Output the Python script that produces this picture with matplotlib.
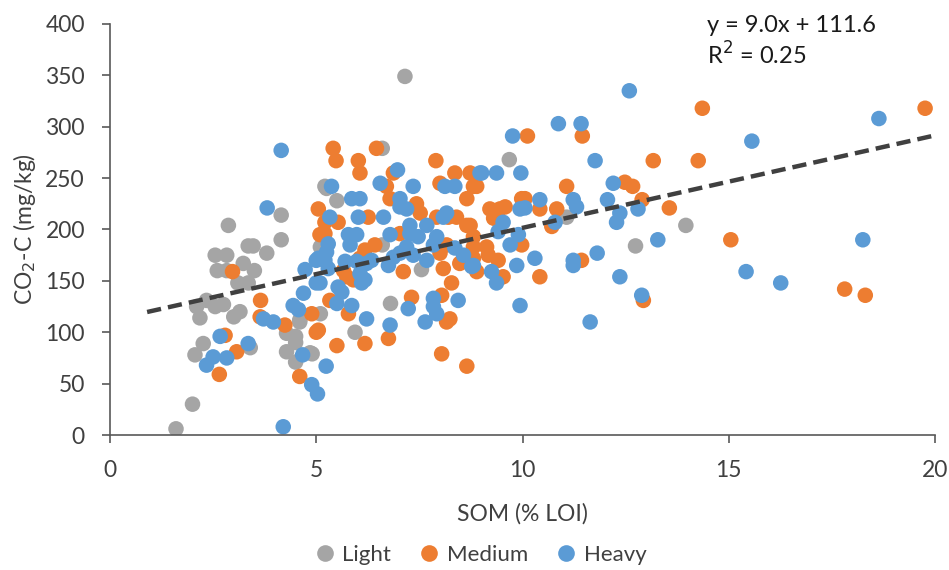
import matplotlib
matplotlib.use("Agg")
import matplotlib.pyplot as plt
from matplotlib.lines import Line2D
import numpy as np

plt.rcParams['font.family'] = ['Lato', 'DejaVu Sans']

light_x = [1.6, 2.0, 2.87, 4.15, 4.15, 3.8, 3.35, 3.47, 2.55, 2.83, 2.6, 2.83, 3.23, 3.5, 3.1, 3.35,
           2.34, 2.1, 2.55, 2.75, 2.18, 3.0, 3.15, 2.26, 2.06, 3.4, 4.28, 4.5, 4.6, 4.28, 4.5, 4.85,
           4.5, 7.15, 6.6, 9.68, 11.07, 12.74, 13.96, 5.25, 5.5, 5.1, 6.6, 7.55, 6.8, 5.94, 5.1, 4.6,
           4.9, 5.21]
light_y = [6, 30, 204, 214, 190, 177, 184, 184, 175, 175, 160, 160, 167, 160, 148, 148,
           131, 125, 125, 127, 114, 115, 120, 89, 78, 85, 99, 96, 110, 81, 71, 80,
           90, 349, 279, 268, 212, 184, 204, 240, 228, 183, 185, 161, 128, 100, 118, 112,
           79, 242]

medium_x = [19.76, 14.36, 13.17, 14.26, 12.9, 13.56, 15.05, 17.81, 18.31, 12.93, 11.45, 10.12,
            8.73, 8.89, 11.07, 12.48, 12.67, 9.98, 10.06, 9.21, 9.45, 9.58, 10.42, 10.83, 9.3,
            10.71, 8.73, 9.98, 8.81, 9.13, 9.17, 9.41, 11.43, 8.89, 9.53, 10.42, 8.65,
            5.41, 5.48, 6.02, 6.06, 6.46, 7.9, 6.87, 8.36, 6.7, 8.0, 8.81,
            8.65, 6.79, 7.43, 7.52, 5.05, 5.21, 5.53, 6.26, 7.92, 8.2, 8.4, 8.65, 5.21, 7.03,
            8.81, 8.16, 6.42, 6.18, 6.06, 8.0, 8.48, 8.81, 7.11, 5.66, 5.74, 5.9, 8.08, 8.28,
            5.33, 7.31, 8.04, 8.24, 8.16, 4.89, 5.78, 5.05, 6.75, 6.18, 5.5, 8.04,
            4.6, 2.97, 3.65, 5.0, 3.64, 4.24, 2.79, 3.07, 2.65, 5.09]
medium_y = [318, 318, 267, 267, 229, 221, 190, 142, 136, 131, 291, 291,
            255, 242, 242, 246, 242, 230, 230, 220, 220, 222, 220, 220, 211,
            203, 204, 185, 183, 183, 175, 170, 170, 159, 154, 154, 67,
            279, 267, 267, 255, 279, 267, 255, 255, 242, 245, 242,
            230, 230, 225, 216, 220, 207, 207, 212, 212, 212, 212, 204, 196, 196,
            193, 185, 185, 180, 172, 177, 167, 172, 159, 160, 154, 151, 162, 148,
            131, 134, 136, 113, 110, 118, 118, 102, 94, 89, 87, 79,
            57, 159, 131, 100, 115, 107, 97, 81, 59, 195]

heavy_x = [15.56, 18.64, 13.28, 18.25, 15.42, 16.26, 12.89, 12.59, 10.87, 11.42, 9.76, 11.76,
           9.01, 9.37, 9.96, 12.2, 10.42, 11.23, 9.94, 10.06, 11.31, 12.06, 12.8, 9.53, 10.79,
           12.36, 12.28, 9.41, 9.9, 9.7, 10.3, 11.23, 11.23, 11.81, 8.81, 9.86, 9.25, 9.37,
           12.36, 9.94, 11.64,
           6.97, 5.37, 6.55, 7.35, 8.12, 8.36, 8.97,
           5.86, 6.06, 7.03, 7.03, 7.19, 5.33, 6.02, 6.63, 8.08, 8.16, 7.27, 7.68, 5.78, 5.98,
           6.79, 7.27, 7.47, 7.92, 7.84, 5.29, 5.25, 5.82, 7.19, 7.03, 6.87, 7.35, 7.68, 8.36,
           8.57, 8.77, 5.05, 5.21, 5.29, 5.7, 5.98, 6.22, 6.34, 6.75, 4.73, 6.06, 6.18, 6.1,
           5.09, 4.69, 5.53, 5.62, 5.5, 5.86, 7.84, 7.84, 7.92, 8.44, 7.23, 7.64, 6.22, 6.79,
           4.67, 5.24, 4.89, 5.03,
           3.81, 4.44, 4.57, 3.72, 3.96, 2.67, 3.35, 2.5, 2.83, 2.34, 4.2, 5.0, 5.0, 4.15]
heavy_y = [286, 308, 190, 190, 159, 148, 136, 335, 303, 303, 291, 267,
           255, 255, 255, 245, 229, 229, 220, 221, 222, 229, 220, 207, 207,
           216, 207, 198, 195, 185, 172, 170, 165, 177, 165, 165, 159, 148,
           154, 126, 110,
           258, 242, 245, 242, 242, 242, 255,
           230, 230, 230, 222, 220, 212, 212, 212, 212, 216, 204, 204, 195, 195,
           195, 196, 193, 193, 185, 186, 178, 185, 183, 177, 173, 175, 170, 182,
           175, 164, 172, 170, 162, 169, 169, 167, 170, 165, 161, 157, 151, 148,
           148, 138, 144, 139, 128, 126, 133, 125, 118, 131, 123, 110, 113, 107,
           78, 67, 49, 40,
           221, 126, 122, 113, 110, 96, 89, 76, 75, 68, 8, 170, 148, 277]

series_names = ["Light", "Medium", "Heavy"]
series_colors = ["#A5A5A5", "#ED7D31", "#5B9BD5"]

trend_slope = 9.0
trend_intercept = 111.6
trend_x_range = [0.9, 20.0]

fig = plt.figure(figsize=(9.49, 5.70), dpi=100)
ax = fig.add_axes([110/949, 1 - 435/570, 825/949, 411/570])

for xs, ys, c in zip([light_x, medium_x, heavy_x], [light_y, medium_y, heavy_y], series_colors):
    ax.scatter(xs, ys, s=125, color=c, edgecolors='none', zorder=2)

tx = np.array(trend_x_range)
ax.plot(tx, trend_slope * tx + trend_intercept, color="#404040", lw=3.2,
        ls=(0, (3.2, 1.6)), zorder=3, solid_capstyle='butt')

ax.set_xlim(0, 20)
ax.set_ylim(0, 400)
ax.set_xticks([0, 5, 10, 15, 20])
ax.set_yticks(range(0, 401, 50))
for s in ['top', 'right']:
    ax.spines[s].set_visible(False)
for s in ['left', 'bottom']:
    ax.spines[s].set_color('#595959')
    ax.spines[s].set_linewidth(1.2)
ax.tick_params(axis='both', labelsize=16.5, colors='#595959', length=6, width=1.2,
               labelcolor='#404040', pad=12)
ax.set_xlabel("SOM (% LOI)", fontsize=16.5, color='#404040', labelpad=16)
ax.set_ylabel("CO$_2$-C (mg/kg)", fontsize=16.5, color='#404040', labelpad=5)

ax.text(707/949, 1 - 25/570, "y = 9.0x + 111.6", transform=fig.transFigure, fontsize=17,
        color='#1a1a1a', va='center', ha='left')
ax.text(707/949, 1 - 55/570, "R$^2$ = 0.25", transform=fig.transFigure, fontsize=17,
        color='#1a1a1a', va='center', ha='left')

handles = [Line2D([], [], marker='o', ls='none', markersize=12, color=c, markeredgewidth=0)
           for c in series_colors]
fig.legend(handles, series_names, loc='center', bbox_to_anchor=(481/949, 1 - 555/570),
           ncol=3, frameon=False, fontsize=16, handlelength=0.8, handletextpad=0.4,
           columnspacing=1.3, labelcolor='#404040')

fig.savefig("out.png", dpi=100)
